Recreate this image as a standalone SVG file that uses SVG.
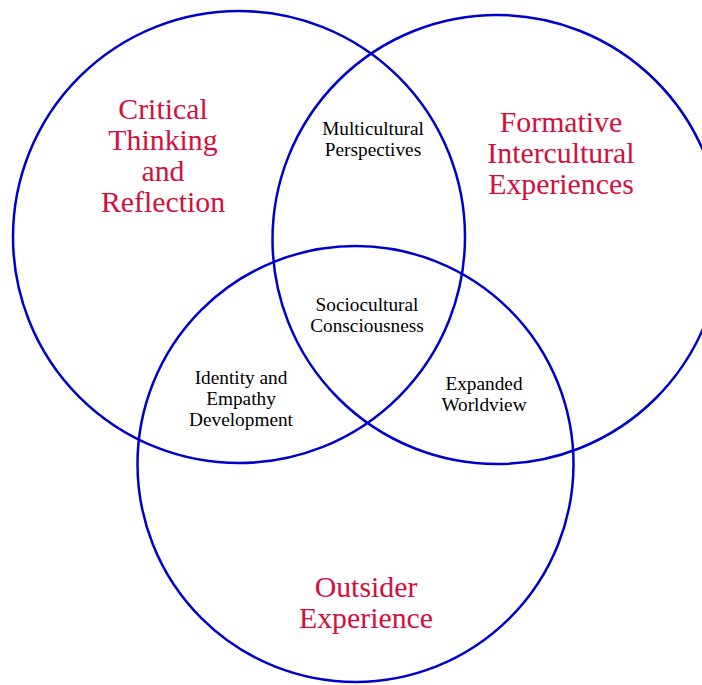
<svg xmlns="http://www.w3.org/2000/svg" width="702" height="685" viewBox="0 0 702 685">
<style>
.c{fill:none;stroke:#0000cd;stroke-width:2.5}
.t{font-family:"Liberation Serif","Times New Roman",serif;text-anchor:middle}
.big{font-size:29.8px;fill:#d40f3c}
.sm{font-size:19.3px;fill:#000}
</style>
<rect width="702" height="685" fill="#fff"/>
<g id="critical">
<circle class="c" cx="239" cy="237" r="226"/>
<text class="t big" x="163" y="119">Critical</text>
<text class="t big" x="163" y="150">Thinking</text>
<text class="t big" x="163" y="181">and</text>
<text class="t big" x="163" y="212">Reflection</text>
</g>
<g id="formative">
<circle class="c" cx="497" cy="239.5" r="224.5"/>
<text class="t big" x="561" y="132">Formative</text>
<text class="t big" x="561" y="163">Intercultural</text>
<text class="t big" x="561" y="194">Experiences</text>
</g>
<g id="outsider">
<circle class="c" cx="355.5" cy="464" r="218"/>
<text class="t big" x="366" y="597">Outsider</text>
<text class="t big" x="366" y="628">Experience</text>
</g>
<g id="multicultural">
<text class="t sm" x="373" y="135">Multicultural</text>
<text class="t sm" x="373" y="156">Perspectives</text>
</g>
<g id="sociocultural">
<text class="t sm" x="367" y="311">Sociocultural</text>
<text class="t sm" x="367" y="332">Consciousness</text>
</g>
<g id="identity">
<text class="t sm" x="241" y="384">Identity and</text>
<text class="t sm" x="241" y="405">Empathy</text>
<text class="t sm" x="241" y="426">Development</text>
</g>
<g id="expanded">
<text class="t sm" x="484" y="390">Expanded</text>
<text class="t sm" x="484" y="411">Worldview</text>
</g>
<g id="connectors"></g>
</svg>
